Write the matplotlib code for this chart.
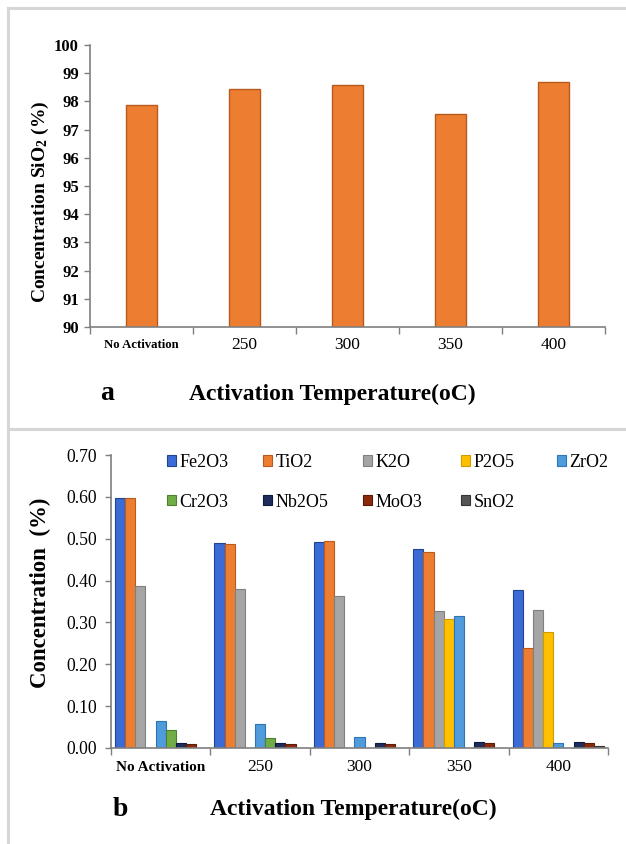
import numpy as np
import matplotlib
matplotlib.use("Agg")
import matplotlib.pyplot as plt
from matplotlib.lines import Line2D

plt.rcParams["font.family"] = ["Liberation Serif", "DejaVu Serif"]
plt.rcParams["mathtext.default"] = "regular"

# ── data ──
categories = ["No Activation", "250", "300", "350", "400"]
sio2 = [97.88, 98.45, 98.57, 97.54, 98.70]

oxides = ["Fe2O3", "TiO2", "K2O", "P2O5", "ZrO2", "Cr2O3", "Nb2O5", "MoO3", "SnO2"]
fe2o3 = [0.597, 0.489, 0.493, 0.476, 0.378]
tio2 = [0.597, 0.487, 0.495, 0.469, 0.239]
k2o = [0.387, 0.379, 0.362, 0.327, 0.329]
p2o5 = [0.0, 0.0, 0.0, 0.309, 0.278]
zro2 = [0.064, 0.058, 0.026, 0.315, 0.013]
cr2o3 = [0.044, 0.025, 0.0, 0.0, 0.0]
nb2o5 = [0.013, 0.013, 0.013, 0.015, 0.015]
moo3 = [0.009, 0.009, 0.009, 0.011, 0.011]
sno2 = [0.001, 0.001, 0.001, 0.001, 0.004]
series = [fe2o3, tio2, k2o, p2o5, zro2, cr2o3, nb2o5, moo3, sno2]

FACE = ["#3A6BD6", "#ED7D31", "#A5A5A5", "#FFC000", "#4F9BDC",
        "#70AD47", "#1F2D5C", "#8B2A0A", "#555555"]
EDGE = ["#1F4591", "#B85A1C", "#808080", "#D09B00", "#2E75B6",
        "#4E7F2F", "#0D1A40", "#5A1A05", "#333333"]
AXIS_C = "#7F7F7F"
FRAME_C = "#D6D6D6"

W, H = 626, 844
fig = plt.figure(figsize=(W / 100, H / 100), dpi=100, facecolor="white")


def fx(px):
    return px / W


def fy(py):
    return 1 - py / H


def style_axis(ax, n):
    ax.set_xlim(-0.5, n - 0.5)
    ax.set_xticks(np.arange(-0.5, n, 1.0))
    ax.set_xticklabels([])
    ax.set_xticks(np.arange(n), minor=True)
    ax.tick_params(axis="x", which="major", direction="out", length=5, color=AXIS_C, width=1)
    ax.tick_params(axis="x", which="minor", length=0)
    ax.tick_params(axis="y", direction="out", length=4, color=AXIS_C, width=1, pad=4)
    for s in ["top", "right"]:
        ax.spines[s].set_visible(False)
    for s in ["left", "bottom"]:
        ax.spines[s].set_color(AXIS_C)
        ax.spines[s].set_linewidth(1.2)


# ── panel frames ──
fig.add_artist(Line2D([fx(8), 1], [fy(8), fy(8)], color=FRAME_C, lw=2.2, transform=fig.transFigure))
fig.add_artist(Line2D([fx(8), fx(8)], [fy(8), 0], color=FRAME_C, lw=2.2, transform=fig.transFigure))
fig.add_artist(Line2D([fx(8), 1], [fy(429), fy(429)], color=FRAME_C, lw=2.2, transform=fig.transFigure))

# ── panel a ──
ax1 = fig.add_axes([fx(90), fy(327), fx(605) - fx(90), fy(45) - fy(327)])
x = np.arange(len(categories))
ax1.bar(x, sio2, width=0.3, color="#ED7D31", edgecolor="#B85A1C", linewidth=1)
ax1.set_ylim(90, 100)
ax1.set_yticks(np.arange(90, 101, 1))
style_axis(ax1, len(categories))
for lab in ax1.get_yticklabels():
    lab.set_fontsize(12)
    lab.set_fontweight("bold")
ax1.set_xticklabels(categories, minor=True)
ax1.tick_params(axis="x", which="minor", pad=13)
for i, lab in enumerate(ax1.get_xticklabels(minor=True)):
    lab.set_va("center")
    if i == 0:
        lab.set_fontsize(9.2)
        lab.set_fontweight("bold")
    else:
        lab.set_fontsize(12.5)

fig.text(fx(40), fy(202), r"Concentration SiO$_2$ (%)", rotation=90, fontsize=14,
         fontweight="bold", ha="center", va="center")
fig.text(fx(332), fy(394), "Activation Temperature(oC)", fontsize=17, fontweight="bold",
         ha="center", va="center")
fig.text(fx(107), fy(394), "a", fontsize=20, fontweight="bold", ha="center", va="center")

# ── panel b ──
ax2 = fig.add_axes([fx(111), fy(748), fx(608) - fx(111), fy(455) - fy(748)])
n_ser = len(oxides)
bw = 0.102
offsets = (np.arange(n_ser) - (n_ser - 1) / 2) * bw
bars = []
for k in range(n_ser):
    b = ax2.bar(x + offsets[k], series[k], width=bw, color=FACE[k], edgecolor=EDGE[k],
                linewidth=0.8, label=oxides[k])
    bars.append(b)
ax2.set_ylim(0, 0.7)
ax2.set_yticks(np.arange(0, 0.71, 0.1))
ax2.set_yticklabels([f"{v:.2f}" for v in np.arange(0, 0.71, 0.1)])
style_axis(ax2, len(categories))
ax2.tick_params(axis="y", pad=6)
for lab in ax2.get_yticklabels():
    lab.set_fontsize(12.7)
ax2.set_xticklabels(categories, minor=True)
ax2.tick_params(axis="x", which="minor", pad=14)
for i, lab in enumerate(ax2.get_xticklabels(minor=True)):
    lab.set_va("center")
    if i == 0:
        lab.set_fontsize(11)
        lab.set_fontweight("bold")
    else:
        lab.set_fontsize(12.5)

# legend: 5 equal-width columns, filled row by row (one small legend per column)
col_x = [167, 263, 363, 461, 557]
for c in range(5):
    idx = [i for i in (c, c + 5) if i < n_ser]
    leg = ax2.legend([bars[i] for i in idx], [oxides[i] for i in idx],
                     loc="upper left", bbox_to_anchor=(fx(col_x[c]), fy(454)),
                     bbox_transform=fig.transFigure, frameon=False, fontsize=13,
                     handlelength=0.5, handleheight=0.5, handletextpad=0.2,
                     labelspacing=1.25, borderpad=0, borderaxespad=0)
    if c < 4:
        ax2.add_artist(leg)

fig.text(fx(40), fy(593), "Concentration  (%)", rotation=90, fontsize=16.5,
         fontweight="bold", ha="center", va="center")
fig.text(fx(353), fy(809), "Activation Temperature(oC)", fontsize=17, fontweight="bold",
         ha="center", va="center")
fig.text(fx(120), fy(809), "b", fontsize=20, fontweight="bold", ha="center", va="center")

fig.savefig("out.png", dpi=100, facecolor="white")
